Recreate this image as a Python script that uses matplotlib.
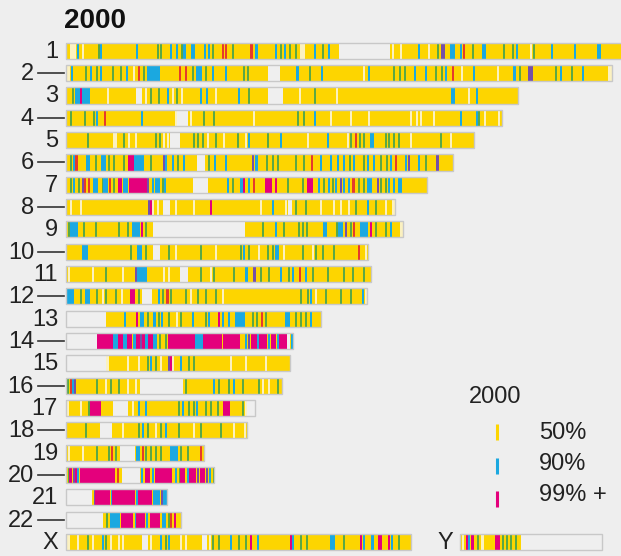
import matplotlib
matplotlib.use("Agg")
import matplotlib.pyplot as plt

# chromosome labels and lengths (in drawing units from the left end of each bar)
labels = ["1", "2", "3", "4", "5", "6", "7", "8", "9", "10", "11", "12",
          "13", "14", "15", "16", "17", "18", "19", "20", "21", "22", "X", "Y"]
lengths = [556, 546, 452, 436, 408, 387, 361, 329, 337, 302, 305, 301,
           255, 227, 224, 216, 189, 181, 138, 148, 101, 115, 345, 142]

# marks: (pos, kind) for a thin stripe or (start, end, kind) for a block
# kinds: g green, b blue (90%), m magenta (99%+), r red, p purple, w pale line, x no data
marks_1 = [(4, 10, 'w'), (11, 'b'), (16, 'w'), (32, 'g'), (34, 'b'), (70, 'b'), (91, 'g'), (94, 'g'),
           (104, 'b'), (110, 'b'), (115, 'g'), (117, 120, 'b'), (125, 129, 'b'), (138, 140, 'b'),
           (142, 144, 'b'), (146, 'g'), (156, 'r'), (159, 'r'), (166, 'g'), (184, 187, 'r'),
           (189, 192, 'b'), (209, 'b'), (214, 'g'), (218, 'b'), (223, 'g'), (229, 'g'), (234, 239, 'w'),
           (248, 'b'), (256, 'g'), (262, 'b'), (273, 324, 'x'), (326, 'w'), (334, 'w'), (352, 'b'),
           (362, 'w'), (371, 'g'), (375, 379, 'p'), (384, 389, 'b'), (394, 'b'), (397, 'r'), (406, 'g'),
           (416, 420, 'b'), (437, 'g'), (446, 'g'), (450, 'b'), (464, 'w'), (467, 'g'), (485, 'b'),
           (508, 'b'), (531, 535, 'b')]
marks_2 = [(0, 4, 'w'), (5, 'b'), (19, 'g'), (24, 'b'), (30, 'g'), (34, 'b'), (46, 'g'), (54, 'g'),
           (60, 'b'), (67, 'w'), (72, 74, 'r'), (77, 'g'), (81, 94, 'b'), (113, 'r'), (119, 'r'), (126, 'g'),
           (130, 136, 'b'), (139, 'g'), (146, 'b'), (159, 'b'), (177, 'g'), (181, 'g'), (202, 214, 'x'),
           (230, 233, 'b'), (243, 'g'), (255, 'b'), (297, 'w'), (302, 'b'), (327, 'g'), (333, 'g'),
           (338, 'g'), (348, 'b'), (359, 'b'), (369, 'g'), (375, 'g'), (379, 'b'), (386, 388, 'r'),
           (395, 'w'), (407, 'b'), (431, 'w'), (447, 450, 'b'), (453, 'g'), (462, 467, 'p'), (489, 'g'),
           (494, 'b'), (505, 'g'), (516, 'b'), (542, 546, 'w')]
marks_3 = [(6, 'g'), (9, 14, 'b'), (14, 16, 'm'), (16, 24, 'b'), (41, 'w'), (70, 76, 'x'), (79, 'w'),
           (84, 'g'), (92, 'g'), (101, 'b'), (106, 'w'), (110, 'g'), (115, 'w'), (134, 'b'), (140, 'b'),
           (149, 'w'), (172, 'b'), (182, 'g'), (202, 217, 'x'), (233, 'w'), (248, 'g'), (270, 'w'),
           (385, 389, 'b'), (402, 'w'), (410, 'b')]
marks_4 = [(4, 'g'), (18, 'g'), (27, 'g'), (30, 'b'), (38, 'r'), (75, 'b'), (109, 'w'), (111, 122, 'x'),
           (124, 'w'), (137, 'g'), (147, 'g'), (187, 'w'), (231, 'g'), (237, 'g'), (248, 'b'), (264, 'w'),
           (284, 'w'), (302, 'w'), (344, 'w'), (350, 'w'), (354, 'w'), (367, 'w'), (394, 'b'), (410, 'b'),
           (412, 'g'), (418, 'w'), (432, 'w')]
marks_5 = [(21, 'g'), (47, 51, 'w'), (57, 'g'), (62, 'w'), (69, 'w'), (89, 'g'), (93, 'g'), (97, 'w'),
           (101, 'w'), (104, 114, 'x'), (127, 'g'), (131, 'g'), (136, 'g'), (141, 'w'), (149, 'g'),
           (157, 'w'), (171, 'g'), (179, 'w'), (182, 'b'), (201, 'g'), (214, 'b'), (241, 'w'), (261, 'b'),
           (281, 'w'), (284, 'g'), (289, 'r'), (293, 'g'), (297, 'g'), (304, 308, 'b'), (319, 'g'),
           (322, 'g'), (327, 'g'), (332, 'g'), (344, 'w'), (374, 'g'), (384, 'w')]
marks_6 = [(4, 'g'), (7, 'b'), (9, 12, 'r'), (20, 24, 'b'), (29, 'g'), (35, 40, 'b'), (42, 'g'), (47, 'g'),
           (57, 'g'), (62, 68, 'm'), (68, 78, 'b'), (84, 'g'), (97, 'p'), (99, 'b'), (106, 'b'), (111, 'g'),
           (117, 'b'), (131, 139, 'x'), (142, 'g'), (148, 'b'), (159, 'b'), (186, 'p'), (189, 192, 'b'),
           (200, 'g'), (206, 'g'), (211, 'g'), (229, 'g'), (237, 'g'), (245, 'r'), (254, 'b'), (264, 'b'),
           (271, 'b'), (277, 'b'), (283, 'g'), (287, 'b'), (297, 'g'), (301, 'b'), (307, 'b'), (314, 'g'),
           (320, 'g'), (324, 'b'), (329, 'r'), (339, 'b'), (342, 'p'), (352, 'b'), (359, 'g'),
           (370, 373, 'p')]
marks_7 = [(4, 'g'), (7, 'b'), (12, 'g'), (16, 'p'), (18, 'r'), (22, 'r'), (27, 32, 'b'), (36, 'g'),
           (37, 42, 'b'), (43, 'r'), (47, 'g'), (52, 56, 'm'), (57, 62, 'b'), (63, 81, 'm'), (81, 'p'),
           (86, 'b'), (89, 94, 'b'), (96, 'g'), (98, 'b'), (127, 142, 'x'), (161, 'b'), (166, 'g'),
           (174, 177, 'b'), (177, 179, 'm'), (182, 'b'), (187, 'r'), (199, 206, 'm'), (209, 211, 'm'),
           (221, 'g'), (236, 'g'), (241, 247, 'm'), (252, 'b'), (257, 'g'), (262, 'b'), (266, 'g'),
           (269, 'b'), (274, 'p'), (277, 'b'), (282, 'b'), (286, 289, 'r'), (292, 'g'), (297, 'g'),
           (301, 306, 'b'), (311, 'p'), (314, 'g'), (319, 'g'), (322, 'b'), (327, 'b'), (332, 336, 'b')]
marks_8 = [(4, 'w'), (14, 'w'), (82, 'p'), (84, 'm'), (86, 'w'), (91, 'w'), (97, 104, 'x'), (109, 'w'),
           (127, 'w'), (144, 'm'), (194, 'w'), (206, 'b'), (219, 'w'), (222, 226, 'x'), (229, 'g'),
           (239, 'g'), (254, 'w'), (267, 'w'), (274, 'w'), (282, 'w'), (289, 'g'), (301, 'b'), (309, 'g'),
           (319, 'w'), (326, 329, 'w')]
marks_9 = [(2, 'g'), (4, 12, 'b'), (17, 'g'), (29, 'g'), (52, 'g'), (61, 'g'), (66, 74, 'b'), (75, 'm'),
           (79, 'g'), (87, 179, 'x'), (196, 'g'), (209, 'b'), (217, 'g'), (232, 'g'), (236, 'g'),
           (240, 'g'), (257, 261, 'b'), (270, 'g'), (272, 277, 'b'), (279, 'p'), (284, 'g'), (287, 'r'),
           (294, 302, 'b'), (304, 'm'), (309, 'g'), (319, 'g'), (324, 'b'), (334, 337, 'w')]
marks_10 = [(16, 22, 'b'), (64, 'g'), (71, 76, 'b'), (79, 'g'), (87, 94, 'x'), (102, 'g'), (109, 'w'),
            (134, 'g'), (149, 'w'), (174, 'g'), (177, 'b'), (182, 'g'), (192, 'w'), (201, 'g'), (206, 'g'),
            (209, 213, 'b'), (217, 'w'), (236, 'g'), (246, 'w'), (249, 'g'), (256, 'g'), (267, 'g'),
            (292, 'r'), (299, 'w')]
marks_11 = [(2, 'w'), (26, 'w'), (39, 'g'), (56, 'w'), (69, 'p'), (71, 81, 'b'), (97, 'w'), (102, 'w'),
            (114, 122, 'x'), (134, 'g'), (144, 'w'), (147, 'g'), (167, 'g'), (179, 182, 'b'),
            (187, 190, 'p'), (194, 'g'), (202, 'g'), (214, 'b'), (222, 'g'), (226, 'b'), (233, 'r'),
            (239, 'b'), (246, 'g'), (261, 'g'), (277, 'g'), (286, 'g'), (297, 'g')]
marks_12 = [(0, 8, 'b'), (14, 'g'), (19, 24, 'b'), (30, 'g'), (36, 'w'), (39, 'g'), (49, 'g'), (55, 'w'),
            (64, 69, 'm'), (72, 'g'), (76, 86, 'x'), (92, 'b'), (96, 'g'), (100, 103, 'r'), (104, 'g'),
            (119, 'g'), (124, 'w'), (131, 'g'), (139, 'g'), (149, 'g'), (156, 'w'), (234, 'g'), (241, 'g'),
            (244, 'b'), (249, 'w'), (259, 'g'), (274, 'g'), (284, 'g'), (296, 'b'), (299, 301, 'w')]
marks_13 = [(0, 40, 'x'), (58, 'b'), (70, 'm'), (74, 78, 'b'), (81, 'g'), (87, 90, 'b'), (92, 'g'),
            (95, 'b'), (102, 'g'), (110, 'w'), (114, 'g'), (126, 'b'), (139, 'g'), (142, 'b'), (152, 'm'),
            (156, 'b'), (162, 'b'), (169, 179, 'b'), (186, 'g'), (190, 'g'), (195, 'r'), (199, 'g'),
            (219, 224, 'b'), (229, 'g'), (234, 'g'), (239, 'g'), (244, 'b')]
marks_14 = [(0, 31, 'x'), (31, 47, 'm'), (47, 52, 'b'), (52, 57, 'm'), (57, 61, 'b'), (61, 66, 'm'),
            (67, 70, 'b'), (70, 74, 'm'), (74, 76, 'p'), (76, 79, 'm'), (79, 82, 'b'), (82, 87, 'm'),
            (87, 91, 'b'), (93, 'g'), (99, 'g'), (102, 129, 'm'), (129, 137, 'b'), (137, 156, 'm'),
            (157, 174, 'm'), (179, 181, 'b'), (182, 184, 'p'), (185, 191, 'm'), (191, 193, 'b'),
            (193, 201, 'm'), (202, 204, 'b'), (205, 210, 'm'), (211, 'b'), (213, 221, 'm'),
            (221, 224, 'x'), (225, 227, 'b')]
marks_15 = [(0, 40, 'x'), (40, 43, 'w'), (61, 'w'), (72, 'w'), (81, 'g'), (84, 'b'), (89, 'g'), (94, 'w'),
            (102, 'p'), (104, 'm'), (106, 'w'), (114, 'b'), (122, 'g'), (127, 'g'), (164, 'w'), (179, 'w'),
            (199, 'w')]
marks_16 = [(1, 'g'), (4, 'r'), (6, 'b'), (8, 'p'), (30, 'g'), (39, 'w'), (44, 'g'), (52, 'g'), (61, 'w'),
            (69, 'w'), (74, 117, 'x'), (119, 'g'), (147, 'b'), (152, 'g'), (162, 'g'), (167, 'b'), (176, 'g'),
            (192, 'g'), (196, 'w'), (202, 'w'), (211, 'g')]
marks_17 = [(1, 'w'), (14, 'w'), (22, 'g'), (24, 35, 'm'), (47, 62, 'x'), (66, 'w'), (72, 'b'), (79, 'b'),
            (112, 'g'), (116, 'b'), (122, 'g'), (127, 'g'), (130, 'b'), (139, 'g'), (144, 'g'), (151, 'g'),
            (157, 164, 'm'), (176, 'g'), (179, 'w'), (181, 189, 'x')]
marks_18 = [(19, 'g'), (34, 46, 'x'), (56, 'w'), (72, 'g'), (76, 'b'), (81, 'g'), (89, 'w'), (94, 'g'),
            (99, 'b'), (112, 'g'), (127, 'w'), (134, 'g'), (154, 'g'), (167, 'w'), (178, 'w')]
marks_19 = [(2, 'w'), (16, 'w'), (30, 'g'), (42, 'g'), (45, 'r'), (49, 'g'), (54, 69, 'x'), (70, 74, 'b'),
            (76, 'r'), (79, 'g'), (84, 'g'), (89, 'g'), (94, 'g'), (104, 112, 'b'), (114, 'g'), (121, 'g'),
            (134, 136, 'r')]
marks_20 = [(2, 'g'), (3, 6, 'm'), (7, 'p'), (9, 11, 'm'), (11, 'b'), (14, 49, 'm'), (51, 'r'),
            (56, 74, 'x'), (75, 'b'), (79, 84, 'm'), (86, 'b'), (89, 106, 'm'), (109, 'b'), (113, 'g'),
            (114, 119, 'm'), (121, 'b'), (123, 130, 'm'), (131, 'p'), (134, 139, 'm'), (140, 'p'),
            (143, 'b'), (147, 'g')]
marks_21 = [(0, 26, 'x'), (28, 'p'), (29, 44, 'm'), (45, 'b'), (46, 69, 'm'), (70, 'b'), (72, 86, 'm'),
            (87, 94, 'b'), (95, 'p'), (97, 101, 'b')]
marks_22 = [(0, 37, 'x'), (40, 'g'), (44, 54, 'b'), (55, 67, 'm'), (69, 'b'), (70, 79, 'm'), (80, 82, 'b'),
            (84, 94, 'm'), (96, 100, 'b'), (102, 'g'), (104, 'r'), (108, 110, 'm')]
marks_x = [(1, 4, 'w'), (11, 'w'), (21, 'g'), (26, 'w'), (36, 'b'), (39, 'g'), (44, 'w'), (52, 'w'),
           (56, 'w'), (76, 82, 'x'), (84, 'w'), (94, 'b'), (99, 'g'), (102, 'b'), (114, 'w'), (119, 'w'),
           (136, 141, 'x'), (143, 'w'), (146, 'g'), (152, 'g'), (164, 'b'), (172, 'g'), (179, 'g'),
           (184, 'm'), (191, 'b'), (224, 'm'), (226, 'b'), (234, 'g'), (240, 'g'), (264, 269, 'b'),
           (277, 'g'), (294, 'm'), (297, 'b'), (305, 308, 'b'), (312, 316, 'm'), (322, 'm'), (325, 'b'),
           (332, 'g')]
marks_y = [(2, 'w'), (6, 'm'), (8, 'b'), (11, 14, 'm'), (17, 'g'), (21, 24, 'w'), (35, 40, 'm'), (42, 'g'),
           (46, 'g'), (50, 'g'), (55, 'g'), (61, 142, 'x')]

marks = [marks_1, marks_2, marks_3, marks_4, marks_5, marks_6, marks_7, marks_8, marks_9, marks_10,
         marks_11, marks_12, marks_13, marks_14, marks_15, marks_16, marks_17, marks_18, marks_19,
         marks_20, marks_21, marks_22, marks_x, marks_y]

legend_labels = ["50%", "90%", "99% +"]

COLORS = {
    'y': '#fdd500',
    'b': '#1ba8e0',
    'm': '#e4007c',
    'g': '#5aa845',
    'r': '#e53a2c',
    'p': '#7550a8',
    'w': '#fbf1c0',
    'x': '#efefef',
}
BG = '#eeeeee'
EDGE = '#c8c8c8'
TXT = '#222222'
H = 0.72

plt.rcParams['font.family'] = ['Liberation Sans', 'DejaVu Sans']

fig = plt.figure(figsize=(6.21, 5.56), dpi=100, facecolor=BG)
ax = fig.add_axes([0, 0, 1, 1])
ax.set_facecolor(BG)
ax.set_xlim(-66, 555)
ax.set_ylim(22.63, -2.28)
ax.axis('off')

for i, lab in enumerate(labels):
    if lab == 'Y':
        row, start = 22, 394
    else:
        row, start = i, 0
    length = lengths[i]
    ax.barh(row, length, left=start, height=H, color=COLORS['y'], lw=0, zorder=1)
    for m in marks[i]:
        if len(m) == 2:
            a, kind = m
            b = a + (1.6 if kind == 'w' else 2.2)
        else:
            a, b, kind = m
        ax.barh(row, b - a, left=start + a, height=H, color=COLORS[kind], lw=0, zorder=2)
    ax.barh(row, length, left=start, height=H, fill=False, edgecolor=EDGE, lw=1, zorder=3)

    # labels: odd rows plain, even rows with a leader line
    if lab == 'Y':
        ax.text(start - 7, row + 0.04, lab, ha='right', va='center', fontsize=17, color=TXT)
    elif lab != 'X' and int(lab) % 2 == 0:
        ax.text(-32, row + 0.04, lab, ha='right', va='center', fontsize=17, color=TXT)
        ax.plot([-28, -2], [row, row], color='#333333', lw=1.2)
    else:
        ax.text(-8, row + 0.04, lab, ha='right', va='center', fontsize=17, color=TXT)

ax.text(-2, -1.35, "2000", ha='left', va='center', fontsize=20, fontweight='bold', color='#111111')

# legend
ax.text(403, 15.5, "2000", ha='left', va='center', fontsize=17, color=TXT)
for k, (lab, kind) in enumerate(zip(legend_labels, ['y', 'b', 'm'])):
    ax.plot([431, 431], [16.73 + k * 1.5, 17.45 + k * 1.5], color=COLORS[kind], lw=2.2,
            solid_capstyle='butt')
    ax.text(473, 17.1 + k * 1.4, lab, ha='left', va='center', fontsize=17, color=TXT)

fig.savefig('out.png', dpi=100, facecolor=BG)
